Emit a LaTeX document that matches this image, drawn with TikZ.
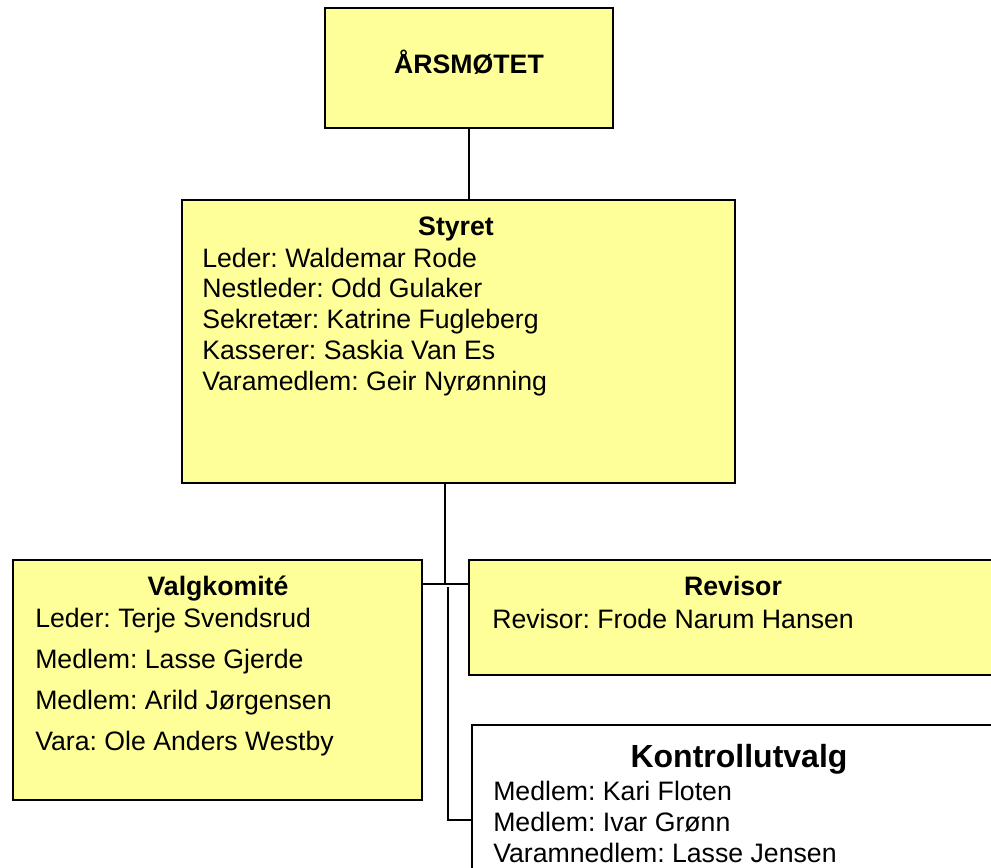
\documentclass[tikz,border=0pt]{standalone}
\usepackage{fontspec}
\setmainfont{Liberation Sans}
\usetikzlibrary{calc}
\usetikzlibrary{fit}
\usepackage{xcolor}
\definecolor{boxyellow}{RGB}{255,255,153}
\frenchspacing

\begin{document}
\begin{tikzpicture} [x=0.75pt, y=-0.75pt,
  orgbox/.style={draw=black, line width=1.2pt, fill=boxyellow, inner sep=0pt, fit={#1}},
  boxtitle/.style={font=\fontsize{20}{23}\selectfont\bfseries, anchor=base, inner sep=0pt},
  member/.style={font=\fontsize{20}{23}\selectfont, anchor=base west, inner sep=0pt},
  link/.style={black, line width=1pt}]
\clip (0,0) rectangle (991,867);
\fill[white] (0,0) rectangle (991,867);
% boxes
\node[orgbox={(325,8) (613,128)}] (aars) {};
\node[orgbox={(182,200) (735,483)}] (styret) {};
\node[orgbox={(13,560) (422,800)}] (valg) {};
\node[orgbox={(469,560) (1000,675)}] (rev) {};
\node[orgbox={(472,725) (1000,900)}, fill=white] (kontroll) {};
% titles
\node[boxtitle] (aars-t) at (469,74) {ÅRSMØTET};
\node[boxtitle] (styret-t) at (456,235) {Styret};
\node[boxtitle] (valg-t) at (218,595) {Valgkomité};
\node[boxtitle] (rev-t) at (733,595) {Revisor};
\node[boxtitle, font=\fontsize{24}{28}\selectfont\bfseries] (kontroll-t) at (739,767) {Kontrollutvalg};
% members
\foreach \t [count=\i] in {Leder: Waldemar Rode, Nestleder: Odd Gulaker, Sekretær: Katrine Fugleberg, Kasserer: Saskia Van Es, Varamedlem: Geir Nyrønning}
  \node[member] (styret-\i) at (202,{267+30.8*(\i-1)}) {\t};
\foreach \t [count=\i] in {Leder: Terje Svendsrud, Medlem: Lasse Gjerde, Medlem: Arild Jørgensen, Vara: Ole Anders Westby}
  \node[member] (valg-\i) at (35,{627+41*(\i-1)}) {\t};
\node[member] (rev-1) at (492,628) {Revisor: Frode Narum Hansen};
\foreach \t [count=\i] in {Medlem: Kari Floten, Medlem: Ivar Grønn, Varamnedlem: Lasse Jensen}
  \node[member] (kontroll-\i) at (493,{800+31*(\i-1)}) {\t};
% connectors
\coordinate (hub) at (445,584);
\coordinate (drop) at (448,587);
\coordinate (kjoin) at (448,820);
\draw[link] (aars.south) -- (aars.south |- styret.north);
\draw[link] (styret.south -| hub) -- (hub);
\draw[link] (valg.east |- hub) -- (rev.west |- hub);
\draw[link] (drop) -- (kjoin) -- (kjoin -| kontroll.west);
\end{tikzpicture}
\end{document}
